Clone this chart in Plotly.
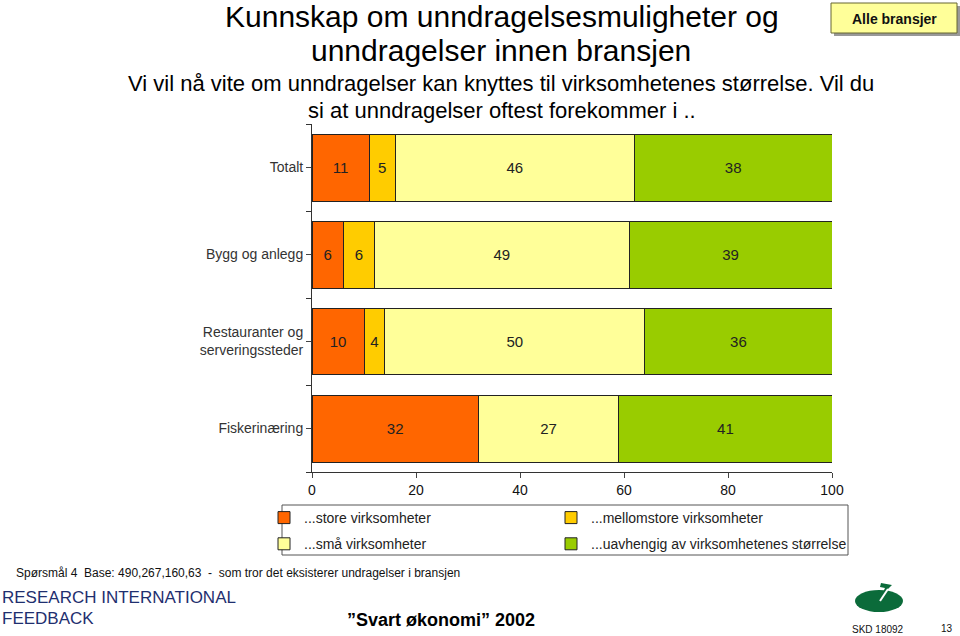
import plotly.graph_objects as go

categories = ["Totalt", "Bygg og anlegg", "Restauranter og<br>serveringssteder", "Fiskerinæring"]
series_names = ["...store virksomheter", "...mellomstore virksomheter", "...små virksomheter",
                "...uavhengig av virksomhetenes størrelse"]
store = [11, 6, 10, 32]
mellomstore = [5, 6, 4, 0]
smaa = [46, 49, 50, 27]
uavhengig = [38, 39, 36, 41]
series_values = [store, mellomstore, smaa, uavhengig]
colors = ["#FF6600", "#FFCC00", "#FFFF99", "#99CC00"]
legend_ids = ["legend", "legend2", "legend", "legend2"]
x_ticks = [0, 20, 40, 60, 80, 100]

W, H = 960, 636
L, R, T, B = 312, 832, 124, 472

def px(x):
    return (x - L) / (R - L)

def py(y):
    return (B - y) / (B - T)

FONT = "Arial, Liberation Sans, sans-serif"

fig = go.Figure()
ypos = list(range(len(categories)))
for i, (name, vals, col, lg) in enumerate(zip(series_names, series_values, colors, legend_ids)):
    fig.add_trace(go.Bar(
        y=ypos, x=vals, orientation="h", name=name, legend=lg, legendgroup=f"g{i}",
        marker=dict(color=col, line=dict(color="#222222", width=1)),
        text=[str(v) if v > 0 else "" for v in vals],
        textposition="inside", insidetextanchor="middle",
        textfont=dict(family=FONT, size=15, color="#222222"),
        constraintext="none",
    ))

legend_common = dict(orientation="v", xanchor="left", yanchor="top",
                     bgcolor="rgba(0,0,0,0)", borderwidth=0, itemwidth=30,
                     tracegroupgap=5,
                     font=dict(family=FONT, size=14, color="#222222"),
                     itemclick=False, itemdoubleclick=False)

fig.update_layout(
    barmode="stack", bargap=0.23,
    width=W, height=H,
    margin=dict(l=L, r=W - R, t=T, b=H - B, autoexpand=False),
    paper_bgcolor="white", plot_bgcolor="white",
    font=dict(family=FONT, color="#222222"),
    xaxis=dict(range=[0, 100], tickvals=x_ticks, ticks="outside", ticklen=5,
               showgrid=False, zeroline=False, showline=True, linecolor="#333333",
               tickfont=dict(size=14, family=FONT, color="#111111"), fixedrange=True),
    yaxis=dict(range=[3.5, -0.5], tickvals=ypos, ticktext=categories, ticks="outside", ticklen=5,
               showgrid=False, zeroline=False, showline=True, linecolor="#333333",
               tickfont=dict(size=14, family=FONT, color="#333333"),
               minor=dict(tickvals=[-0.5, 0.5, 1.5, 2.5, 3.5], ticks="outside", ticklen=5, tickcolor="#333333"),
               fixedrange=True),
    showlegend=True,
    legend=dict(x=px(264), y=py(502), **legend_common),
    legend2=dict(x=px(551), y=py(502), **legend_common),
)

# legend frame
fig.add_shape(type="rect", xref="paper", yref="paper", x0=px(282), x1=px(848), y0=py(505), y1=py(555),
              line=dict(color="#555555", width=1), fillcolor="rgba(0,0,0,0)", layer="below")

annots = [
    dict(text="Kunnskap om unndragelsesmuligheter og", x=502, y=17, size=30),
    dict(text="unndragelser innen bransjen", x=501, y=51, size=30),
    dict(text="Vi vil nå vite om unndragelser kan knyttes til virksomhetenes størrelse. Vil du", x=501, y=84, size=22),
    dict(text="si at unndragelser oftest forekommer i ..", x=502, y=110, size=22),
]
for a in annots:
    fig.add_annotation(text=a["text"], xref="paper", yref="paper", x=px(a["x"]), y=py(a["y"]),
                       xanchor="center", yanchor="middle", showarrow=False,
                       font=dict(family=FONT, size=a["size"], color="#000000"))

# "Alle bransjer" box
fig.add_shape(type="rect", xref="paper", yref="paper", x0=px(834), x1=px(960), y0=py(6), y1=py(36),
              fillcolor="#999999", line=dict(width=0), layer="above")
fig.add_shape(type="rect", xref="paper", yref="paper", x0=px(831), x1=px(957), y0=py(3), y1=py(33),
              fillcolor="#FFFF99", line=dict(color="#666633", width=1), layer="above")
fig.add_annotation(text="<b>Alle bransjer</b>", xref="paper", yref="paper", x=px(894), y=py(19),
                   xanchor="center", yanchor="middle",
                   showarrow=False, font=dict(family=FONT, size=14, color="#111111"))

# footer
fig.add_annotation(text="Spørsmål 4  Base: 490,267,160,63  -  som tror det eksisterer undragelser i bransjen",
                   xref="paper", yref="paper", x=px(14), y=py(573), xanchor="left", yanchor="middle",
                   showarrow=False, font=dict(family=FONT, size=12, color="#111111"))
fig.add_annotation(text="RESEARCH INTERNATIONAL",
                   xref="paper", yref="paper", x=px(0), y=py(597), xanchor="left", yanchor="middle",
                   showarrow=False, font=dict(family=FONT, size=17, color="#1F2F6F"))
fig.add_annotation(text="FEEDBACK",
                   xref="paper", yref="paper", x=px(0), y=py(618), xanchor="left", yanchor="middle",
                   showarrow=False, font=dict(family=FONT, size=17, color="#1F2F6F"))
fig.add_annotation(text="<b>\u201dSvart økonomi\u201d 2002</b>",
                   xref="paper", yref="paper", x=px(345), y=py(620), xanchor="left", yanchor="middle",
                   showarrow=False, font=dict(family=FONT, size=18, color="#000000"))
fig.add_annotation(text="SKD 18092", xref="paper", yref="paper", x=px(878), y=py(629),
                   xanchor="center", yanchor="middle", showarrow=False,
                   font=dict(family=FONT, size=10, color="#111111"))
fig.add_annotation(text="13", xref="paper", yref="paper", x=px(947), y=py(628),
                   xanchor="center", yanchor="middle", showarrow=False,
                   font=dict(family=FONT, size=10, color="#111111"))

# logo
def P(x, y):
    return f"{px(x):.5f},{py(y):.5f}"
fig.add_shape(type="circle", xref="paper", yref="paper", x0=px(855), x1=px(903), y0=py(590), y1=py(612),
              fillcolor="#0B6B3A", line=dict(width=0), layer="above")
path = "M " + P(879, 601) + " L " + P(885, 588) + " L " + P(880, 587) + " L " + P(881, 583) + " L " + P(892, 585) + " L " + P(888, 589) + " L " + P(883, 601) + " Z"
fig.add_shape(type="path", xref="paper", yref="paper", path=path,
              fillcolor="#0B6B3A", line=dict(width=0), layer="above")
fig.add_shape(type="line", xref="paper", yref="paper", x0=px(880), y0=py(601), x1=px(888), y1=py(589),
              line=dict(color="white", width=2), layer="above")

fig.write_html("out.html", config={"displayModeBar": False},
               post_script="document.body.style.margin='0';document.body.style.overflow='hidden';")
